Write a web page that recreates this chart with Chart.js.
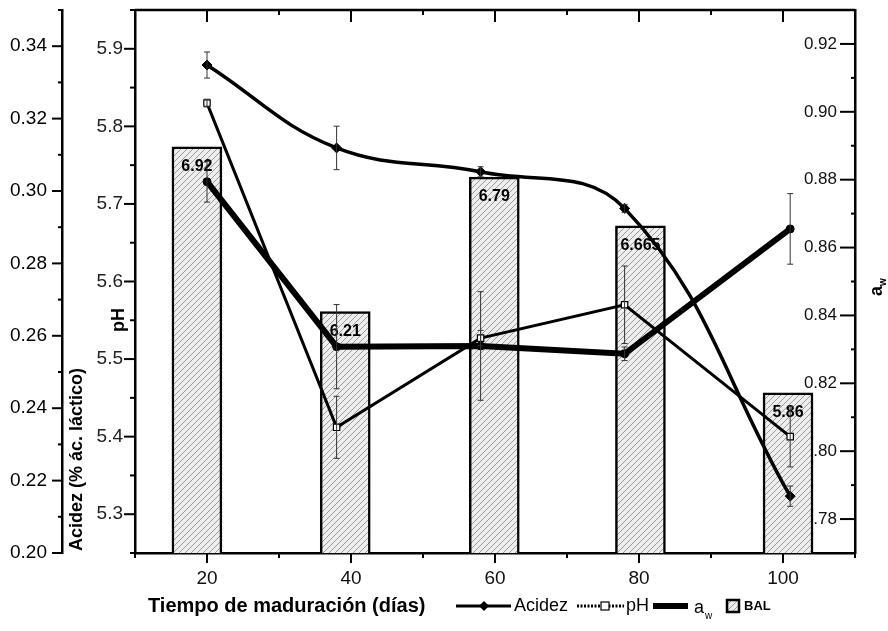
<!DOCTYPE html>
<html>
<head>
<meta charset="utf-8">
<script src="https://cdn.jsdelivr.net/npm/chart.js@4.4.1/dist/chart.umd.min.js"></script>
<style>
    html, body { margin: 0; padding: 0; background: #fff; }
    #chart { display: block; }
</style>
</head>
<body>
<canvas id="chart" width="888" height="631"></canvas>
<script>
const dias = [20, 38, 58, 78, 101];
const acidez = [0.3348, 0.3119, 0.3053, 0.2952, 0.2157];
const acidezErr = [0.0036, 0.0060, 0.0014, 0.0011, 0.0028];
const ph = [5.830, 5.412, 5.527, 5.570, 5.400];
const phErr = [0.005, 0.040, 0.010, 0.050, 0.039];
const aw = [0.8794, 0.8308, 0.8310, 0.8287, 0.8655];
const awErr = [0.006, 0.0124, 0.016, 0.002, 0.0104];

// barras BAL
const balDias = [18.6, 39.2, 59.9, 80.2, 100.7];
const bal = [6.92, 6.21, 6.79, 6.58, 5.86];
const balEtiquetas = ['6.92', '6.21', '6.79', '6.665', '5.86'];

// ticks de los ejes
const xTicks = [20, 40, 60, 80, 100];
const xMenores = [10, 30, 50, 70, 90, 110];
const acTicks = [0.20, 0.22, 0.24, 0.26, 0.28, 0.30, 0.32, 0.34];
const acMenores = [0.21, 0.23, 0.25, 0.27, 0.29, 0.31, 0.33, 0.35];
const phTicks = [5.3, 5.4, 5.5, 5.6, 5.7, 5.8, 5.9];
const phMenores = [5.25, 5.35, 5.45, 5.55, 5.65, 5.75, 5.85, 5.95];
const awTicks = [0.78, 0.80, 0.82, 0.84, 0.86, 0.88, 0.90, 0.92];
const awMenores = [0.79, 0.81, 0.83, 0.85, 0.87, 0.89, 0.91, 0.93];

const tituloX = 'Tiempo de maduración (días)';
const tituloAcidez = 'Acidez (% ác. láctico)';

const fuente = '"Liberation Sans", Arial, Helvetica, sans-serif';
Chart.defaults.font.family = fuente;
Chart.defaults.color = '#111';

const ctxMain = document.getElementById('chart').getContext('2d');

function crearRayado(ctx) {
    const c = document.createElement('canvas');
    c.width = 6; c.height = 6;
    const g = c.getContext('2d');
    g.fillStyle = '#eeeeee';
    g.fillRect(0, 0, 6, 6);
    g.strokeStyle = '#9a9a9a';
    g.lineWidth = 1;
    g.beginPath(); g.moveTo(0, 6); g.lineTo(6, 0); g.stroke();
    return ctx.createPattern(c, 'repeat');
}
const rayado = crearRayado(ctxMain);

function fijarTicks(valores) {
    return scale => { scale.ticks = valores.map(v => ({ value: v })); };
}

// ancho/alto fijo del eje, sin el relleno extra que pide chart.js para las etiquetas
function fijarTam(prop, tam) {
    return s => {
        s[prop] = tam;
        s.paddingTop = 0; s.paddingBottom = 0;
        s.paddingLeft = 0; s.paddingRight = 0;
    };
}

function puntos(xs, ys) {
    return xs.map((x, i) => ({ x: x, y: ys[i] }));
}

// etiquetas dentro de las barras (antes de dibujar las líneas)
const etiquetasBal = {
    id: 'etiquetasBal',
    afterDatasetDraw(chart, args) {
        if (chart.data.datasets[args.index].label !== 'BAL') return;
        const ctx = chart.ctx;
        ctx.save();
        ctx.font = `bold 16px ${fuente}`;
        ctx.fillStyle = '#000';
        ctx.textAlign = 'center';
        ctx.textBaseline = 'middle';
        args.meta.data.forEach((bar, i) => ctx.fillText(balEtiquetas[i], bar.x, bar.y + 20));
        ctx.restore();
    }
};

const barrasError = {
    id: 'barrasError',
    afterDatasetsDraw(chart) {
        const ctx = chart.ctx;
        ctx.save();
        ctx.strokeStyle = '#333';
        ctx.lineWidth = 1;
        chart.data.datasets.forEach((ds, i) => {
            if (!ds.err) return;
            const meta = chart.getDatasetMeta(i);
            const ys = chart.scales[ds.yAxisID];
            meta.data.forEach((pt, j) => {
                const v = ds.data[j].y, e = ds.err[j];
                const arriba = ys.getPixelForValue(v + e), abajo = ys.getPixelForValue(v - e);
                ctx.beginPath();
                ctx.moveTo(pt.x, arriba); ctx.lineTo(pt.x, abajo);
                ctx.moveTo(pt.x - 3, arriba); ctx.lineTo(pt.x + 3, arriba);
                ctx.moveTo(pt.x - 3, abajo); ctx.lineTo(pt.x + 3, abajo);
                ctx.stroke();
            });
        });
        ctx.restore();
    }
};

// marco superior y marcas de los ejes
const marco = {
    id: 'marco',
    afterDraw(chart) {
        const { ctx, chartArea: a, scales: s } = chart;
        ctx.save();
        ctx.strokeStyle = '#000';
        ctx.lineWidth = 2.5;
        ctx.beginPath(); ctx.moveTo(a.left, a.top); ctx.lineTo(a.right, a.top); ctx.stroke();

        ctx.lineWidth = 2;
        const horiz = (scale, vals, x0, dx) => vals.forEach(v => {
            const y = scale.getPixelForValue(v);
            ctx.beginPath(); ctx.moveTo(x0, y); ctx.lineTo(x0 + dx, y); ctx.stroke();
        });
        const vert = (vals, y0, dy) => vals.forEach(v => {
            const x = s.x.getPixelForValue(v);
            ctx.beginPath(); ctx.moveTo(x, y0); ctx.lineTo(x, y0 + dy); ctx.stroke();
        });
        horiz(s.yAc, acTicks, s.yAc.right, -10);
        horiz(s.yAc, acMenores, s.yAc.right, -4);
        horiz(s.yPh, phTicks, s.yPh.right, -11);
        horiz(s.yPh, phMenores, s.yPh.right, -5);
        horiz(s.yAw, awTicks, s.yAw.left, -15);
        horiz(s.yAw, awMenores, s.yAw.left, -4);
        vert(xTicks, a.bottom, 10);
        vert(xMenores, a.bottom, 5);
        vert(xTicks, a.top, 12);
        vert(xMenores, a.top, 5);
        ctx.restore();
    }
};

// títulos de ejes y leyenda en la línea inferior
const titulos = {
    id: 'titulos',
    afterDraw(chart) {
        const ctx = chart.ctx;
        ctx.save();
        ctx.fillStyle = '#000';
        ctx.strokeStyle = '#000';
        ctx.textBaseline = 'middle';

        ctx.save();
        ctx.translate(77, 551);
        ctx.rotate(-Math.PI / 2);
        ctx.font = `bold 18px ${fuente}`;
        ctx.textAlign = 'left';
        ctx.fillText(tituloAcidez, 0, 0);
        ctx.restore();

        ctx.save();
        ctx.translate(119, 320);
        ctx.rotate(-Math.PI / 2);
        ctx.font = `bold 18px ${fuente}`;
        ctx.textAlign = 'center';
        ctx.fillText('pH', 0, 0);
        ctx.restore();

        ctx.save();
        ctx.translate(877, 296);
        ctx.rotate(-Math.PI / 2);
        ctx.textAlign = 'left';
        ctx.font = `bold 18px ${fuente}`;
        ctx.fillText('a', 0, 0);
        ctx.font = `bold 10px ${fuente}`;
        ctx.fillText('w', 10, 6);
        ctx.restore();

        const y = 606;
        ctx.textAlign = 'left';
        ctx.font = `bold 20px ${fuente}`;
        ctx.fillText(tituloX, 148, y);

        // Acidez
        ctx.lineWidth = 3;
        ctx.beginPath(); ctx.moveTo(456, y); ctx.lineTo(511, y); ctx.stroke();
        ctx.beginPath();
        ctx.moveTo(484, y - 5); ctx.lineTo(489, y); ctx.lineTo(484, y + 5); ctx.lineTo(479, y);
        ctx.closePath(); ctx.fill();
        ctx.font = `18px ${fuente}`;
        ctx.fillText('Acidez', 514, y);

        // pH
        ctx.setLineDash([2, 1.5]);
        ctx.beginPath(); ctx.moveTo(577, y); ctx.lineTo(624, y); ctx.stroke();
        ctx.setLineDash([]);
        ctx.fillStyle = '#fff';
        ctx.fillRect(601, y - 4, 8, 8);
        ctx.lineWidth = 1.2;
        ctx.strokeRect(601, y - 4, 8, 8);
        ctx.fillStyle = '#000';
        ctx.fillText('pH', 626, y);

        // aw
        ctx.lineWidth = 6;
        ctx.beginPath(); ctx.moveTo(653, y); ctx.lineTo(688, y); ctx.stroke();
        ctx.fillText('a', 694, y + 2);
        ctx.font = `10px ${fuente}`;
        ctx.fillText('w', 705, y + 10);

        // BAL
        ctx.fillStyle = rayado;
        ctx.fillRect(727, y - 6, 12, 12);
        ctx.lineWidth = 2.5;
        ctx.strokeRect(727, y - 6, 12, 12);
        ctx.fillStyle = '#000';
        ctx.font = `bold 13px ${fuente}`;
        ctx.fillText('BAL', 744, y);
        ctx.restore();
    }
};

const ejeNegro = { display: true, color: '#000', width: 2.5 };

new Chart(ctxMain, {
    data: {
        datasets: [
            { type: 'line', label: 'Acidez', yAxisID: 'yAc', data: puntos(dias, acidez), err: acidezErr,
              borderColor: '#000', backgroundColor: '#000', borderWidth: 3.5, tension: 0.4,
              pointStyle: 'rectRot', pointRadius: 5, pointBackgroundColor: '#000',
              pointBorderWidth: 1, order: 1 },
            { type: 'line', label: 'pH', yAxisID: 'yPh', data: puntos(dias, ph), err: phErr,
              borderColor: '#000', backgroundColor: '#fff', borderWidth: 3, tension: 0,
              pointStyle: 'rect', pointRadius: 4.5, pointBackgroundColor: '#fff',
              pointBorderColor: '#000', pointBorderWidth: 1.2, order: 2 },
            { type: 'line', label: 'aw', yAxisID: 'yAw', data: puntos(dias, aw), err: awErr,
              borderColor: '#000', backgroundColor: '#000', borderWidth: 6, tension: 0,
              pointStyle: 'circle', pointRadius: 4, pointBackgroundColor: '#000',
              pointBorderWidth: 1, order: 0 },
            { type: 'bar', label: 'BAL', yAxisID: 'yBal', data: puntos(balDias, bal),
              backgroundColor: rayado, borderColor: '#000', borderWidth: 2.5,
              barThickness: 50, order: 10 }
        ]
    },
    options: {
        responsive: false,
        animation: false,
        devicePixelRatio: 1,
        layout: { padding: { top: 10, left: 0, right: 0, bottom: 0 } },
        plugins: { legend: { display: false }, tooltip: { enabled: false } },
        scales: {
            x: {
                type: 'linear', position: 'bottom', min: 10, max: 110, offset: false,
                afterBuildTicks: fijarTicks(xTicks),
                afterFit: fijarTam('height', 78),
                grid: { display: false, drawTicks: false, offset: false },
                border: ejeNegro,
                ticks: { padding: 14, font: { size: 19 }, color: '#111' }
            },
            yPh: {
                type: 'linear', position: 'left', weight: 0, min: 5.25, max: 5.95,
                afterBuildTicks: fijarTicks(phTicks),
                afterFit: fijarTam('width', 73),
                grid: { display: false, drawTicks: false },
                border: ejeNegro,
                ticks: { padding: 12, font: { size: 19 }, color: '#222', callback: v => v.toFixed(1) }
            },
            yAc: {
                type: 'linear', position: 'left', weight: 1, min: 0.20, max: 0.35,
                afterBuildTicks: fijarTicks(acTicks),
                afterFit: fijarTam('width', 62),
                grid: { display: false, drawTicks: false },
                border: ejeNegro,
                ticks: { padding: 15, font: { size: 19 }, color: '#000', callback: v => v.toFixed(2) }
            },
            yAw: {
                type: 'linear', position: 'right', min: 0.77, max: 0.93,
                afterBuildTicks: fijarTicks(awTicks),
                afterFit: fijarTam('width', 33),
                grid: { display: false, drawTicks: false },
                border: ejeNegro,
                ticks: { mirror: true, padding: -18, font: { size: 17 }, color: '#111', callback: v => v.toFixed(2) }
            },
            yBal: { type: 'linear', display: false, min: 5.17, max: 7.51 }
        }
    },
    plugins: [etiquetasBal, barrasError, marco, titulos]
});
</script>
</body>
</html>
